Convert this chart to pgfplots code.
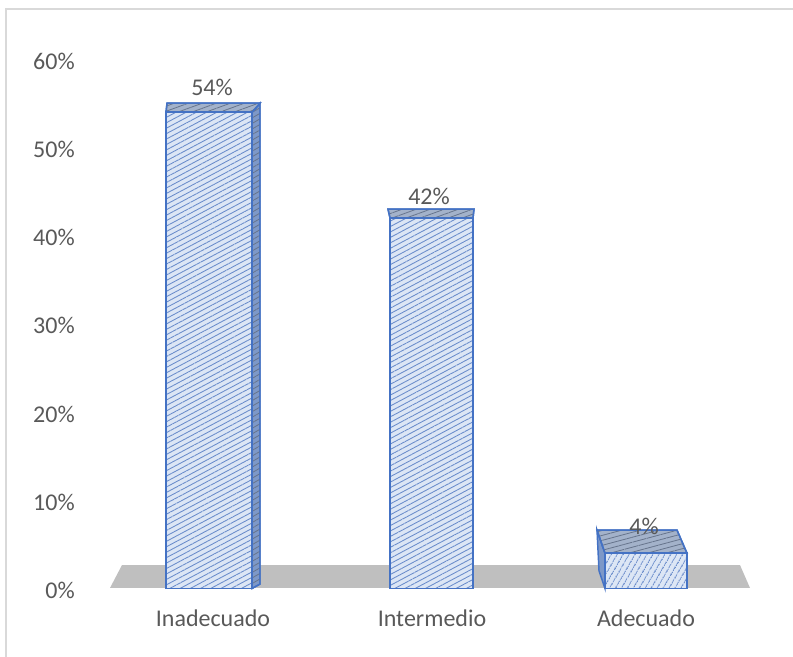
\documentclass[border=0pt]{standalone}
\usepackage{fontspec}
\setmainfont{Carlito}
\usepackage{pgfplots}
\pgfplotsset{compat=1.18}
\usetikzlibrary{patterns.meta}
\definecolor{textgray}{HTML}{595959}
\definecolor{barblue}{HTML}{4472C4}
\definecolor{frontfill}{HTML}{DCE6F5}
\definecolor{hatch}{HTML}{6A8CCB}
\definecolor{topfill}{HTML}{A3B2CA}
\definecolor{tophatch}{HTML}{66748C}
\definecolor{sidefill}{HTML}{7D98C8}
\definecolor{floorgray}{HTML}{BFBFBF}
\definecolor{framegray}{HTML}{D9D9D9}
\begin{document}
\begin{tikzpicture}
\begin{axis}[
  name=ax, at={(0,0)}, anchor=south west,
  scale only axis, width=594.75pt, height=492.75pt,
  xmin=0, xmax=793, ymin=-7.766, ymax=66.723,
  axis line style={draw=none}, tick style={draw=none},
  ytick={0,10,20,30,40,50,60},
  yticklabels={0\%,10\%,20\%,30\%,40\%,50\%,60\%},
  yticklabel style={anchor=east, inner sep=0pt, xshift=56.25pt, yshift=-1.5pt, text=textgray, font=\fontsize{18}{21}\selectfont},
  xtick={213,432,646},
  xticklabels={Inadecuado,Intermedio,Adecuado},
  xticklabel style={anchor=center, yshift=29.25pt, text=textgray, font=\fontsize{18}{21}\selectfont},
  clip=true,
]
% chart frame
\draw[framegray, line width=1pt] (axis cs:6,65.70) rectangle (axis cs:900,-20);
% floor
\addplot[fill=floorgray, draw=none] coordinates {(110,0.06) (750,0.06) (740,2.66) (122,2.66)} --cycle;
% bar 1 (54%)
\addplot[fill=sidefill, draw=barblue, line width=1.1pt,
  postaction={pattern={Lines[angle=30,distance=3.6pt,line width=0.6pt]}, pattern color=tophatch}]
  coordinates {(252,0) (252,54) (260,55.02) (260,0.5)} --cycle;
\addplot[fill=topfill, draw=barblue, line width=1.1pt,
  postaction={pattern={Lines[angle=20,distance=3.6pt,line width=0.6pt]}, pattern color=tophatch}]
  coordinates {(166,54) (252,54) (260,55.02) (167,55.02)} --cycle;
\addplot[fill=frontfill, draw=barblue, line width=1.1pt,
  postaction={pattern={Lines[angle=28,distance=3.6pt,line width=0.65pt]}, pattern color=hatch}]
  coordinates {(166,0) (252,0) (252,54) (166,54)} --cycle;
% bar 2 (42%)
\addplot[fill=topfill, draw=barblue, line width=1.1pt,
  postaction={pattern={Lines[angle=20,distance=3.6pt,line width=0.6pt]}, pattern color=tophatch}]
  coordinates {(390,42) (473,42) (474,43.0) (388,43.0)} --cycle;
\addplot[fill=frontfill, draw=barblue, line width=1.1pt,
  postaction={pattern={Lines[angle=28,distance=3.6pt,line width=0.65pt]}, pattern color=hatch}]
  coordinates {(390,0) (473,0) (473,42) (390,42)} --cycle;
% bar 3 (4%)
\addplot[fill=sidefill, draw=barblue, line width=1.1pt]
  coordinates {(605,0) (605,4) (597,6.63) (599,2.0)} --cycle;
\addplot[fill=topfill, draw=barblue, line width=1.1pt,
  postaction={pattern={Lines[angle=15,distance=3.6pt,line width=0.6pt]}, pattern color=tophatch}]
  coordinates {(605,4) (687,4) (677,6.63) (597,6.63)} --cycle;
\addplot[fill=frontfill, draw=barblue, line width=1.1pt,
  postaction={pattern={Lines[angle=60,distance=4pt,line width=0.9pt]}, pattern color=hatch}]
  coordinates {(605,0) (687,0) (687,4) (605,4)} --cycle;
% data labels
\node[text=textgray, font=\fontsize{18}{21}\selectfont, anchor=center] at (axis cs:212,56.86) {54\%};
\node[text=textgray, font=\fontsize{18}{21}\selectfont, anchor=center] at (axis cs:429,44.5) {42\%};
\node[text=textgray, font=\fontsize{18}{21}\selectfont, anchor=center] at (axis cs:644,7.03) {4\%};
\end{axis}
\pgfresetboundingbox
\path[use as bounding box] (ax.south west) rectangle (ax.north east);
\end{tikzpicture}
\end{document}
